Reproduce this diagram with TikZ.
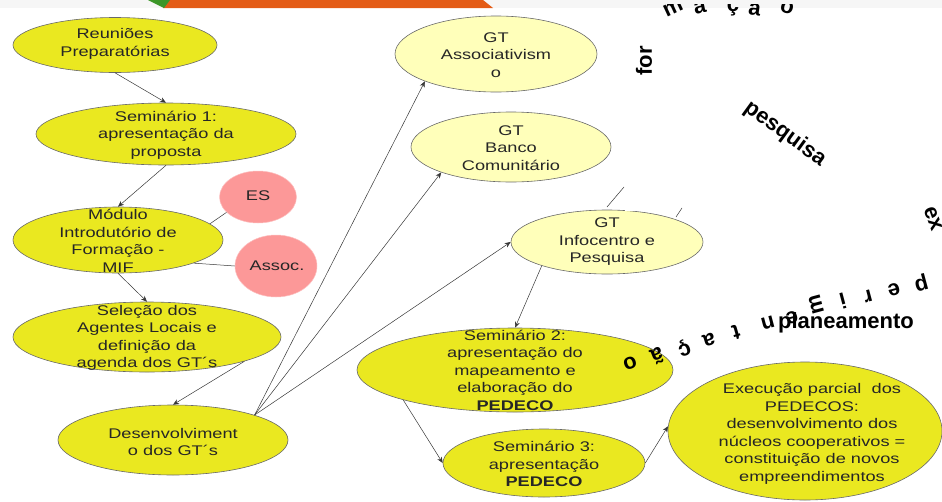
\documentclass[tikz,border=0pt]{standalone}
\usepackage{fontspec}
\setmainfont[FakeStretch=1.3]{Liberation Sans}
\newfontfamily\bigfont{Liberation Sans}
\usetikzlibrary{shapes.geometric,arrows.meta}
\definecolor{ylw}{RGB}{234,232,32}
\definecolor{lylw}{RGB}{255,255,186}
\definecolor{pnk}{RGB}{252,152,152}
\definecolor{edg}{RGB}{105,105,105}
\definecolor{lin}{RGB}{55,55,55}
\definecolor{orng}{RGB}{228,92,22}
\definecolor{grn}{RGB}{60,150,40}
\definecolor{band}{RGB}{246,246,246}
\begin{document}
\begin{tikzpicture}[x=1pt,y=-1pt,
  ell/.style={ellipse,draw=edg,line width=0.6pt,inner sep=0pt},
  yb/.style={ell,fill=ylw},
  lb/.style={ell,fill=lylw},
  pb/.style={ellipse,fill=pnk,draw=pnk!60!white,line width=0.5pt,inner sep=0pt},
  txt/.style={align=center,font=\fontsize{14}{17.5}\selectfont,text=black!85,inner sep=0pt},
  arr/.style={draw=lin,line width=0.5pt,-{Stealth[length=6pt,width=5pt]}},
  ln/.style={draw=lin,line width=0.5pt},
  big/.style={font=\bigfont\fontsize{22}{22}\selectfont\bfseries,inner sep=0pt,text=black},
]
\path[use as bounding box] (0,0) rectangle (942,501);
% top band
\fill[band] (0,0) rectangle (942,8);
% top rotated letters (clipped)
\begin{scope}
\clip (600,4) rectangle (942,40);
\foreach \x/\a/\l in {673/25/m,700/12/a,733/0/ç,755/-8/ã,787/-15/o}
  \node[big,rotate=\a] (top\x) at (\x,8) {\l};
\end{scope}
\fill[orng] (168,0) -- (483,0) -- (493,8) -- (163,8) -- cycle;
\fill[grn] (148,0) -- (170,0) -- (164,8) -- cycle;

% fragments of connectors near GT Infocentro
\coordinate (fa1) at (624,187); \coordinate (fa2) at (607,207);
\coordinate (fb1) at (682,208); \coordinate (fb2) at (676,217);
\draw[ln] (fa1) -- (fa2);
\draw[ln] (fb1) -- (fb2);

% ellipses
\node[yb,minimum width=204pt,minimum height=55pt] (reun) at (115,45) {};
\node[yb,minimum width=260pt,minimum height=62pt] (sem1) at (166,134) {};
\node[yb,minimum width=210pt,minimum height=66pt] (mod) at (118,240) {};
\node[pb,minimum width=77pt,minimum height=52pt] (es) at (258,197) {};
\node[pb,minimum width=82pt,minimum height=62pt] (assoc) at (276,266) {};
\node[yb,minimum width=268pt,minimum height=70pt] (sel) at (147,337) {};
\node[yb,minimum width=230pt,minimum height=70pt] (des) at (173,440) {};
\node[lb,minimum width=202pt,minimum height=76pt] (gta) at (496,54) {};
\node[lb,minimum width=200pt,minimum height=70pt] (gtb) at (511,147) {};
\node[lb,minimum width=192pt,minimum height=64pt] (gti) at (607,242) {};
\fill[white] (625,196) rectangle (659,211);
\node[yb,minimum width=316pt,minimum height=84pt] (sem2) at (515,370) {};
\node[yb,minimum width=202pt,minimum height=68pt] (sem3) at (544,463) {};
\node[yb,minimum width=274pt,minimum height=138pt] (exec) at (805,431) {};

% connectors
\draw[arr] (reun.south) -- (sem1.north);
\draw[arr] (sem1.south) -- (mod.north);
\draw[arr] (mod.south) -- (sel.north);
\draw[ln] (es.206) -- (mod.10);
\draw[ln] (assoc.west) -- (mod.-17);
\draw[arr] (sel.-14) -- (des.north);
\draw[arr] (des.17) -- (gta.201);
\draw[arr] (des.17) -- (gtb.200);
\draw[arr] (des.17) -- (gti.west);
\draw[arr] (gti.200) -- (sem2.north);
\draw[arr] (sem2.195) -- (sem3.west);
\draw[arr] (sem3.east) -- (exec.178);

% texts
\node[txt] (treun) at (115,44) {Reuniões\\Preparatórias};
\node[txt] (tsem1) at (166,135) {Seminário 1:\\apresentação da\\proposta};
\node[txt] (tmod) at (118,241) {Módulo\\Introdutório de\\Formação -\\MIF};
\node[txt] (tes) at (258,196) {ES};
\node[txt] (tassoc) at (277,266) {Assoc.};
\node[txt] (tsel) at (147,338) {Seleção dos\\Agentes Locais e\\definição da\\agenda dos GT´s};
\node[txt] (tdes) at (173,442) {Desenvolviment\\o dos GT´s};
\node[txt] (tgta) at (496,55) {GT\\Associativism\\o};
\node[txt] (tgtb) at (511,148) {GT\\Banco\\Comunitário};
\node[txt] (tgti) at (607,242) {GT\\Infocentro e\\Pesquisa};
\node[txt] (tsem2) at (515,370) {Seminário 2:\\apresentação do\\mapeamento e\\elaboração do\\\textbf{PEDECO}};
\node[txt] (tsem3) at (544,464) {Seminário 3:\\apresentação\\\textbf{PEDECO}};
\node[txt] (texec) at (812,434) {Execução parcial\ \ dos\\PEDECOS:\\desenvolvimento dos\\núcleos cooperativos =\\constituição de novos\\empreendimentos};

% rotated words of the background circle
\node[big,rotate=90] (wfor) at (644,61) {for};
\node[big,rotate=-36] (wpesq) at (785,134) {pesquisa};
\node[big,rotate=-70] (wex) at (933,219) {ex};
\foreach \x/\y/\a/\l in {921/283/195/p,894/290/195/e,868/296/195/r,843/301/195/i,
  816/305/105/m,792/318/195/e,768/323/195/n,736/332/196/t,709/340/197/a,
  684/348/200/ç,657/356/202/ã,630/363/200/o}
  \node[big,rotate=\a] (l\x) at (\x,\y) {\l};
\node[big] (wplan) at (846,323) {planeamento};
\end{tikzpicture}
\end{document}
